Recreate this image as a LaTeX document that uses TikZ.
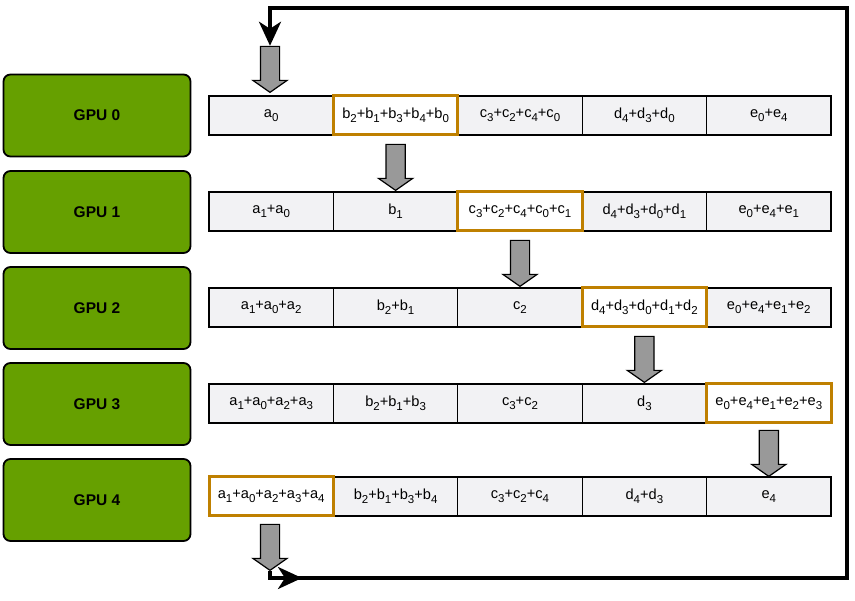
\documentclass[tikz,border=0pt]{standalone}
\usepackage{fontspec}
\setmainfont{Liberation Sans}
\usetikzlibrary{shapes.arrows,arrows.meta}
\definecolor{gpugreen}{RGB}{102,160,0}
\definecolor{sumorange}{RGB}{191,128,0}
\definecolor{cellgray}{RGB}{242,242,244}
\definecolor{arrowgray}{RGB}{153,153,153}
\newcommand{\idx}[1]{\raisebox{-0.3em}{\fontsize{11.5}{13}\selectfont #1}}
\tikzset{
  gpu/.style={draw, line width=1.8pt, rounded corners=7pt, fill=gpugreen,
    minimum width=187, minimum height=82, font=\bfseries\fontsize{15.5}{18}\selectfont},
  cell/.style={draw, line width=1.3pt, fill=cellgray, minimum width=124.4,
    minimum height=39, inner sep=0pt, font=\fontsize{14.6}{17}\selectfont},
  sumcell/.style={cell, draw=sumorange, fill=white, line width=3pt},
  blockarrow/.style={single arrow, draw, line width=1.2pt, fill=arrowgray,
    shape border rotate=270, minimum height=46, inner sep=9pt,
    single arrow head extend=7.5pt, single arrow tip angle=110},
  loopline/.style={line width=3.5pt},
  looptip/.style={-{Stealth[length=24pt,width=22pt,inset=7pt]}}
}
\begin{document}
\begin{tikzpicture}[x=1pt,y=-1pt]
        \useasboundingbox (0,0) rectangle (855,601);
        % gpus
        \node[gpu] (gpu0) at (97,115.5) {GPU 0};
        \node[gpu] (gpu1) at (97,212) {GPU 1};
        \node[gpu] (gpu2) at (97,308) {GPU 2};
        \node[gpu] (gpu3) at (97,404) {GPU 3};
        \node[gpu] (gpu4) at (97,500) {GPU 4};
        % row 0
        \node[cell] (r0a) at (271.2,115.5) {a\idx{0}};
        \node[cell] (r0c) at (520,115.5) {c\idx{3}+c\idx{2}+c\idx{4}+c\idx{0}};
        \node[cell] (r0d) at (644.4,115.5) {d\idx{4}+d\idx{3}+d\idx{0}};
        \node[cell] (r0e) at (768.8,115.5) {e\idx{0}+e\idx{4}};
        \node[sumcell] (r0b) at (395.6,115.5) {b\idx{2}+b\idx{1}+b\idx{3}+b\idx{4}+b\idx{0}};
        % row 1
        \node[cell] (r1a) at (271.2,211.5) {a\idx{1}+a\idx{0}};
        \node[cell] (r1b) at (395.6,211.5) {b\idx{1}};
        \node[cell] (r1d) at (644.4,211.5) {d\idx{4}+d\idx{3}+d\idx{0}+d\idx{1}};
        \node[cell] (r1e) at (768.8,211.5) {e\idx{0}+e\idx{4}+e\idx{1}};
        \node[sumcell] (r1c) at (520,211.5) {c\idx{3}+c\idx{2}+c\idx{4}+c\idx{0}+c\idx{1}};
        % row 2
        \node[cell] (r2a) at (271.2,307.5) {a\idx{1}+a\idx{0}+a\idx{2}};
        \node[cell] (r2b) at (395.6,307.5) {b\idx{2}+b\idx{1}};
        \node[cell] (r2c) at (520,307.5) {c\idx{2}};
        \node[cell] (r2e) at (768.8,307.5) {e\idx{0}+e\idx{4}+e\idx{1}+e\idx{2}};
        \node[sumcell] (r2d) at (644.4,307.5) {d\idx{4}+d\idx{3}+d\idx{0}+d\idx{1}+d\idx{2}};
        % row 3
        \node[cell] (r3a) at (271.2,403.5) {a\idx{1}+a\idx{0}+a\idx{2}+a\idx{3}};
        \node[cell] (r3b) at (395.6,403.5) {b\idx{2}+b\idx{1}+b\idx{3}};
        \node[cell] (r3c) at (520,403.5) {c\idx{3}+c\idx{2}};
        \node[cell] (r3d) at (644.4,403.5) {d\idx{3}};
        \node[sumcell] (r3e) at (768.8,403.5) {e\idx{0}+e\idx{4}+e\idx{1}+e\idx{2}+e\idx{3}};
        % row 4
        \node[cell] (r4b) at (395.6,496.5) {b\idx{2}+b\idx{1}+b\idx{3}+b\idx{4}};
        \node[cell] (r4c) at (520,496.5) {c\idx{3}+c\idx{2}+c\idx{4}};
        \node[cell] (r4d) at (644.4,496.5) {d\idx{4}+d\idx{3}};
        \node[cell] (r4e) at (768.8,496.5) {e\idx{4}};
        \node[sumcell] (r4a) at (271.2,496.5) {a\idx{1}+a\idx{0}+a\idx{2}+a\idx{3}+a\idx{4}};
        % block arrows
        \node[blockarrow] (a0in) at (270,66) {};
        \node[blockarrow] (r01) at (395.6,164) {};
        \node[blockarrow] (r12) at (520,260) {};
        \node[blockarrow] (r23) at (644.4,356) {};
        \node[blockarrow] (r34) at (768.8,450) {};
        \node[blockarrow] (a4out) at (270,544) {};
        % ring back to the top
        \coordinate (bl) at (270,578);
        \coordinate (bm) at (302,578);
        \coordinate (br) at (847,578);
        \coordinate (tr) at (847,8);
        \coordinate (tl) at (270,8);
        \draw[loopline,looptip] (a4out.tip) -- (bl) -- (bm);
        \draw[loopline,looptip] (bl) -- (br) -- (tr) -- (tl) -- (a0in.tail);
    \end{tikzpicture}
\end{document}
